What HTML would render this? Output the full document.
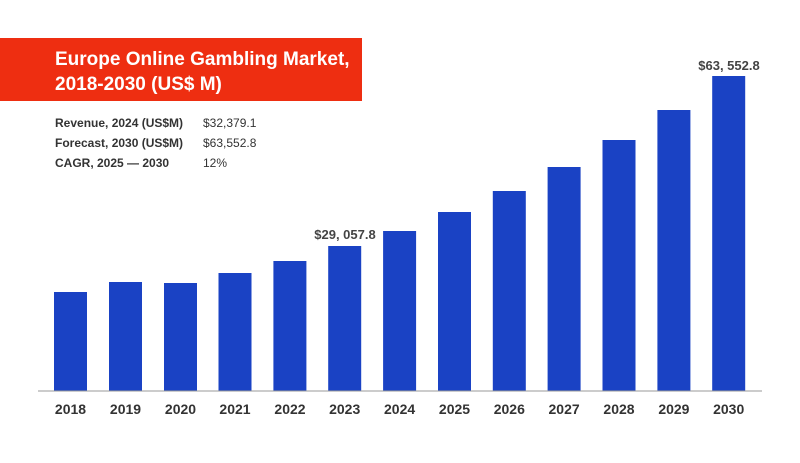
<!DOCTYPE html>
<html><head><meta charset="utf-8"><style>
body{margin:0;background:#fff;width:800px;height:458px;overflow:hidden;font-family:"Liberation Sans",sans-serif}
</style></head><body>
<svg width="800" height="458" xmlns="http://www.w3.org/2000/svg" font-family="Liberation Sans, sans-serif">
<rect x="0" y="38" width="362" height="63" fill="#ee2e11"/>
<text x="55" y="65" font-size="19" font-weight="bold" fill="#fff">Europe Online Gambling Market,</text>
<text x="55" y="90" font-size="19" font-weight="bold" fill="#fff">2018-2030 (US$ M)</text>
<g font-size="12" fill="#333">
<text x="55" y="127" font-weight="bold">Revenue, 2024 (US$M)</text><text x="203" y="127">$32,379.1</text>
<text x="55" y="147" font-weight="bold">Forecast, 2030 (US$M)</text><text x="203" y="147">$63,552.8</text>
<text x="55" y="167" font-weight="bold">CAGR, 2025 — 2030</text><text x="203" y="167">12%</text>
</g>
<g fill="#1a42c4">
<rect x="54" y="292" width="33" height="99"/>
<rect x="109" y="282" width="33" height="109"/>
<rect x="164" y="283" width="33" height="108"/>
<rect x="218.5" y="273" width="33" height="118"/>
<rect x="273.4" y="261" width="33" height="130"/>
<rect x="328.2" y="246" width="33" height="145"/>
<rect x="383.1" y="231" width="33" height="160"/>
<rect x="438" y="212" width="33" height="179"/>
<rect x="492.8" y="191" width="33" height="200"/>
<rect x="547.6" y="167" width="33" height="224"/>
<rect x="602.5" y="140" width="33" height="251"/>
<rect x="657.4" y="110" width="33" height="281"/>
<rect x="712.2" y="76" width="33" height="315"/>
</g>
<line x1="38" y1="391" x2="762" y2="391" stroke="#999" stroke-width="1"/>
<g font-size="13" font-weight="bold" fill="#444" text-anchor="middle">
<text x="345" y="239">$29, 057.8</text>
<text x="729" y="70">$63, 552.8</text>
</g>
<g font-size="14" font-weight="bold" fill="#333" text-anchor="middle">
<text x="70.5" y="414">2018</text><text x="125.5" y="414">2019</text><text x="180.5" y="414">2020</text>
<text x="235" y="414">2021</text><text x="290" y="414">2022</text><text x="344.7" y="414">2023</text>
<text x="399.6" y="414">2024</text><text x="454.5" y="414">2025</text><text x="509.3" y="414">2026</text>
<text x="564.1" y="414">2027</text><text x="619" y="414">2028</text><text x="673.9" y="414">2029</text>
<text x="728.7" y="414">2030</text>
</g>
</svg>
</body></html>
